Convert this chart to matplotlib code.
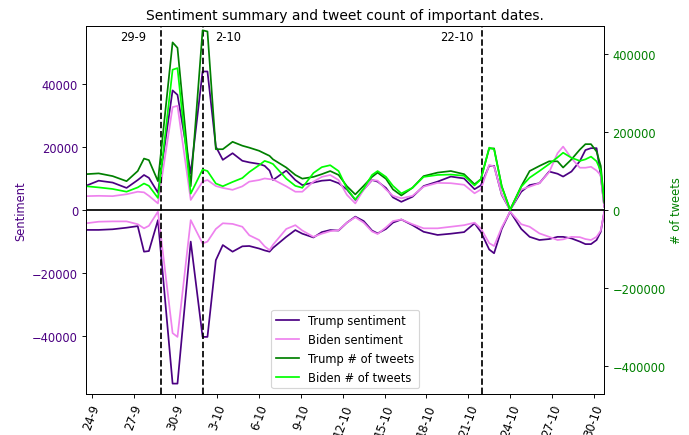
import matplotlib
matplotlib.use("Agg")
import matplotlib.pyplot as plt
import matplotlib.transforms as transforms

# days counted from 24-9 00:00
days = [-0.4, 0.5, 1.5, 2.5, 3.3, 3.75, 4.1, 4.75, 5.8, 6.15, 7.1, 7.95, 8.3,
        8.9, 9.4, 10.1, 10.8, 11.3, 12.0, 12.4, 12.75, 13.0, 13.95, 14.6, 15.1,
        15.9, 16.5, 17.1, 17.7, 18.3, 18.9, 19.5, 20.1, 20.5, 21.1, 21.6, 22.2,
        23.0, 23.8, 24.8, 25.75, 26.7, 27.45, 27.9, 28.5, 28.85, 29.4, 30.0,
        30.8, 31.4, 32.1, 32.8, 33.4, 33.8, 34.4, 35.0, 35.4, 35.8, 36.2, 36.5,
        36.75]

trump_tweets = [92000, 94000, 87000, 74000, 100000, 132000, 128000, 74000,
                430000, 416000, 61000, 461000, 458000, 156000, 156000, 175000,
                165000, 160000, 152000, 145000, 139000, 130000, 109000, 90000,
                80500, 85000, 92000, 100000, 90000, 61000, 40000, 62000, 85000,
                96000, 80000, 53000, 37400, 57000, 87000, 96000, 100000, 92000,
                66000, 79000, 158000, 158000, 61000, 1000, 61000, 100000,
                113000, 125000, 125000, 109000, 130000, 155000, 169000, 169000,
                150000, 113000, 18600]
biden_tweets = [61000, 58000, 54000, 47000, 58000, 68000, 62000, 31000,
                360000, 364000, 42000, 104000, 100000, 68000, 61000, 72000,
                82000, 97500, 115000, 126000, 122000, 118000, 80500, 62000,
                57000, 95000, 110000, 115000, 100000, 55000, 27000, 55000,
                90000, 100000, 85000, 62000, 42600, 57000, 85000, 90000, 91000,
                88000, 63000, 79000, 160000, 156000, 60000, 0, 60000, 83000,
                100000, 118000, 135000, 147000, 134000, 126000, 130000, 137000,
                125000, 100000, 27000]

trump_pos = [7700, 9300, 8700, 7000, 9500, 11100, 10200, 5500, 37900, 36500,
             11600, 43900, 43900, 20100, 15900, 18000, 15600, 15100, 14600,
             14000, 12500, 9500, 12500, 9500, 7900, 8700, 9300, 9500, 8500,
             6500, 3200, 6500, 9500, 9000, 7000, 4000, 2600, 4200, 7600, 9000,
             10600, 10000, 6600, 7800, 14000, 14000, 4800, 0, 5800, 7900, 8500,
             12200, 11500, 10600, 12200, 15500, 19000, 19600, 19600, 10600,
             1000]
biden_pos = [4400, 4500, 4400, 5000, 5800, 5600, 4500, 2100, 32600, 33000,
             3200, 9000, 9500, 7600, 7000, 6400, 7500, 9000, 9500, 10000, 9800,
             9700, 7500, 5800, 5800, 9000, 10500, 11100, 9500, 4800, 2100,
             6500, 9500, 9300, 6500, 4500, 3700, 4500, 7400, 8600, 8500, 8000,
             5300, 6500, 14300, 13800, 5000, 0, 6500, 7400, 8500, 12000, 18000,
             20100, 16400, 13400, 13400, 13700, 12500, 11000, 1000]

trump_neg = [-6300, -6300, -6100, -5600, -5100, -13200, -13000, -3200, -55000,
             -55000, -10000, -40200, -40200, -15900, -11100, -13200, -11500,
             -11400, -12200, -12800, -13200, -12000, -8500, -6350, -7500,
             -8700, -7000, -6350, -6500, -4000, -2100, -3500, -6500, -7400,
             -6000, -4000, -3000, -4800, -6900, -7900, -7500, -7000, -4200,
             -6900, -12500, -13700, -6000, -500, -6000, -8500, -9500, -9200,
             -8500, -8500, -9000, -10000, -10800, -10800, -9500, -6900, -500]
biden_neg = [-4200, -3700, -3600, -3600, -4500, -5800, -5000, -500, -39000,
             -40200, -3200, -10600, -10000, -6000, -4200, -4400, -5300, -8000,
             -9500, -11500, -12700, -11000, -6000, -4800, -6500, -8500, -7500,
             -6700, -6400, -4000, -2300, -4000, -6800, -7600, -5500, -3500,
             -3000, -4500, -5800, -5800, -5300, -4800, -4000, -5800, -10500,
             -11400, -5500, -500, -4500, -5300, -7400, -8500, -9500, -9300,
             -8500, -8600, -9200, -9500, -8500, -6500, -500]

tick_days = [0, 3, 6, 9, 12, 15, 18, 21, 24, 27, 30, 33, 36]
tick_labels = ['24-9', '27-9', '30-9', '3-10', '6-10', '9-10', '12-10',
               '15-10', '18-10', '21-10', '24-10', '27-10', '30-10']

event_days = [5, 8, 28]
event_labels = ['29-9', '2-10', '22-10']
event_text_x = [3.0, 9.8, 26.2]


def main():
    fig, ax = plt.subplots(figsize=(689 / 83, 436 / 83), dpi=83)
    fig.subplots_adjust(left=0.125, right=0.877, top=0.938, bottom=0.094)
    ax2 = ax.twinx()

    l1, = ax.plot(days, trump_pos, color='indigo', lw=1.5, label='Trump sentiment')
    l2, = ax.plot(days, biden_pos, color='violet', lw=1.5, label='Biden sentiment')
    ax.plot(days, trump_neg, color='indigo', lw=1.5)
    ax.plot(days, biden_neg, color='violet', lw=1.5)
    l3, = ax2.plot(days, trump_tweets, color='green', lw=1.5, label='Trump # of tweets')
    l4, = ax2.plot(days, biden_tweets, color='lime', lw=1.5, label='Biden # of tweets')

    ax.axhline(0, color='black', lw=1.5)
    trans = transforms.blended_transform_factory(ax.transData, ax.transAxes)
    for d, lab, tx in zip(event_days, event_labels, event_text_x):
        ax.axvline(d, color='black', ls='--', lw=1.5)
        ax.text(tx, 0.99, lab, transform=trans, ha='center', va='top', fontsize=10)

    ax.set_xlim(days[0], days[-1])
    ax.set_ylim(-58300, 58300)
    ax2.set_ylim(-472000, 472000)

    ax.set_xticks(tick_days)
    ax.set_xticklabels(tick_labels, rotation=70)

    ax.set_ylabel('Sentiment', color='indigo')
    ax.tick_params(axis='y', labelcolor='indigo')
    ax2.set_ylabel('# of tweets', color='green')
    ax2.tick_params(axis='y', labelcolor='green')

    ax.set_title('Sentiment summary and tweet count of important dates.')
    ax2.legend(handles=[l1, l2, l3, l4], loc='lower center')

    fig.savefig('out.png', dpi=83)


if __name__ == "__main__":
    main()
